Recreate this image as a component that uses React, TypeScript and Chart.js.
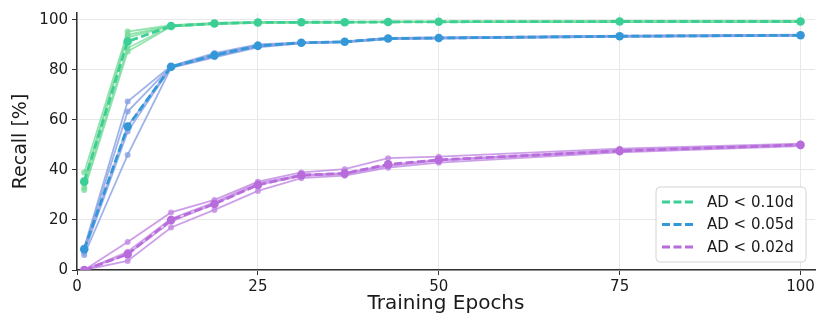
import React, { useEffect, useRef } from "react";
import { Chart, registerables } from "chart.js";

Chart.register(...registerables);

const epochs = [1, 7, 13, 19, 25, 31, 37, 43, 50, 75, 100];
const xTicks = [0, 25, 50, 75, 100];
const yTicks = [0, 20, 40, 60, 80, 100];

const greenRuns = [
  [39, 95.3, 97.8, 98.7, 99.1, 99.1, 99.1, 99.2, 99.2, 99.3, 99.3],
  [36, 94, 97.6, 98.5, 99, 99, 99.1, 99.2, 99.2, 99.3, 99.3],
  [35, 93, 97.5, 98.4, 98.9, 99, 99, 99.1, 99.2, 99.3, 99.3],
  [33, 88.7, 97.4, 98.4, 98.9, 98.9, 99, 99.1, 99.1, 99.2, 99.3],
  [32, 87.3, 97.3, 98.3, 98.8, 98.9, 99, 99.1, 99.1, 99.2, 99.2],
];
const greenMean = [35.3, 91.3, 97.5, 98.5, 98.9, 99, 99, 99.1, 99.2, 99.3, 99.3];

const blueRuns = [
  [9, 67.3, 81.5, 86.7, 90.2, 91, 91.4, 92.7, 92.9, 93.6, 94],
  [8.5, 63.3, 81.3, 86.2, 89.8, 90.9, 91.3, 92.6, 92.8, 93.5, 93.9],
  [8, 57.5, 81.2, 85.6, 89.5, 90.8, 91.2, 92.5, 92.7, 93.4, 93.8],
  [7, 55.3, 81, 85.3, 89.3, 90.7, 91.1, 92.4, 92.6, 93.3, 93.7],
  [6, 46, 80.8, 85, 89, 90.6, 91, 92.3, 92.5, 93.2, 93.6],
];
const blueMean = [8.3, 57.3, 81.2, 85.8, 89.6, 90.8, 91.2, 92.5, 92.7, 93.4, 93.8];

const purpleRuns = [
  [0, 11.2, 23, 28, 35.3, 39, 40.3, 44.7, 45.3, 48.5, 50.5],
  [0, 7.3, 20.5, 27, 34.7, 38, 38.7, 42, 44, 48, 50],
  [0, 6.3, 19.3, 26.4, 34, 37.5, 38.3, 41.5, 43.7, 47.5, 50],
  [0, 3.6, 17, 24, 31.6, 36.7, 37.7, 40.9, 42.9, 47, 49.5],
];
const purpleMean = [0, 6.3, 20, 26.4, 34, 37.9, 38.6, 42.2, 44, 47.6, 50];

const seriesLabels = ["AD < 0.10d", "AD < 0.05d", "AD < 0.02d"];
const meanColors = ["#3ccf95", "#3498d8", "#b86cdc"];
const runColors = ["rgba(120,220,155,0.8)", "rgba(135,160,228,0.8)", "rgba(192,135,226,0.8)"];

const FONT = "'DejaVu Sans', sans-serif";

const toPts = (ys: number[]) => ys.map((y, i) => ({ x: epochs[i], y }));

export default function App() {
  const ref = useRef<HTMLCanvasElement | null>(null);

  useEffect(() => {
    document.body.style.margin = "0";
    const canvas = ref.current;
    if (!canvas) return;

    const groups = [
      { runs: greenRuns, mean: greenMean },
      { runs: blueRuns, mean: blueMean },
      { runs: purpleRuns, mean: purpleMean },
    ];
    const datasets: any[] = [];
    groups.forEach((g, gi) => {
      g.runs.forEach((r) => {
        datasets.push({
          data: toPts(r),
          borderColor: runColors[gi],
          backgroundColor: runColors[gi],
          borderWidth: 1.8,
          pointRadius: 3,
          pointBorderWidth: 0,
          order: 2,
        });
      });
    });
    groups.forEach((g, gi) => {
      datasets.push({
        label: seriesLabels[gi],
        data: toPts(g.mean),
        borderColor: meanColors[gi],
        backgroundColor: meanColors[gi],
        borderWidth: 2.8,
        borderDash: [8, 3.5],
        pointRadius: 4.3,
        pointBorderWidth: 0,
        order: 1,
      });
    });

    const legendPlugin = {
      id: "boxLegend",
      afterDraw(chart: any) {
        const ctx = chart.ctx;
        ctx.save();
        const bx = 656, by = 187, bw = 150, bh = 75, rad = 4;
        ctx.beginPath();
        ctx.moveTo(bx + rad, by);
        ctx.arcTo(bx + bw, by, bx + bw, by + bh, rad);
        ctx.arcTo(bx + bw, by + bh, bx, by + bh, rad);
        ctx.arcTo(bx, by + bh, bx, by, rad);
        ctx.arcTo(bx, by, bx + bw, by, rad);
        ctx.closePath();
        ctx.fillStyle = "rgba(255,255,255,0.85)";
        ctx.fill();
        ctx.strokeStyle = "#d4d4d4";
        ctx.lineWidth = 1;
        ctx.stroke();
        const rows = [202, 224.5, 247];
        seriesLabels.forEach((lab, i) => {
          ctx.beginPath();
          ctx.setLineDash([8, 3.5]);
          ctx.strokeStyle = meanColors[i];
          ctx.lineWidth = 2.8;
          ctx.moveTo(662, rows[i]);
          ctx.lineTo(694, rows[i]);
          ctx.stroke();
          ctx.setLineDash([]);
          ctx.fillStyle = "#1a1a1a";
          ctx.font = `15px ${FONT}`;
          ctx.textBaseline = "middle";
          ctx.textAlign = "left";
          ctx.fillText(lab, 707, rows[i] + 1);
        });
        ctx.restore();
      },
    };

    const chart = new Chart(canvas, {
      type: "line",
      data: { datasets },
      options: {
        animation: false,
        responsive: false,
        maintainAspectRatio: false,
        layout: { padding: { top: 13, right: 15, left: 0, bottom: 0 } },
        plugins: { legend: { display: false }, tooltip: { enabled: false } },
        scales: {
          x: {
            type: "linear",
            min: 0,
            max: 102,
            afterBuildTicks: (s: any) => {
              s.ticks = xTicks.map((v) => ({ value: v }));
            },
            afterFit: (s: any) => {
              s.height = 62;
            },
            grid: { color: "#e8e8e8", lineWidth: 1, tickLength: 5, tickColor: "#333" },
            border: { color: "#333", width: 1.5 },
            ticks: { font: { size: 15, family: FONT }, color: "#1a1a1a", padding: 3, maxRotation: 0 },
            title: {
              display: true,
              text: "Training Epochs",
              font: { size: 20, family: FONT },
              color: "#1a1a1a",
              padding: { top: 0, bottom: 16 },
            },
          },
          y: {
            type: "linear",
            min: 0,
            max: 102.7,
            afterBuildTicks: (s: any) => {
              s.ticks = yTicks.map((v) => ({ value: v }));
            },
            afterFit: (s: any) => {
              s.width = 77;
            },
            grid: { color: "#e8e8e8", lineWidth: 1, tickLength: 5, tickColor: "#333" },
            border: { color: "#333", width: 1.5 },
            ticks: { font: { size: 15, family: FONT }, color: "#1a1a1a", padding: 4 },
            title: {
              display: true,
              text: "Recall [%]",
              font: { size: 19, family: FONT },
              color: "#1a1a1a",
              padding: { top: 10, bottom: 0 },
            },
          },
        },
      } as any,
      plugins: [legendPlugin],
    });
    return () => chart.destroy();
  }, []);

  return (
    <div style={{ width: 830, height: 332 }}>
      <canvas ref={ref} width={830} height={332} style={{ display: "block" }} />
    </div>
  );
}
